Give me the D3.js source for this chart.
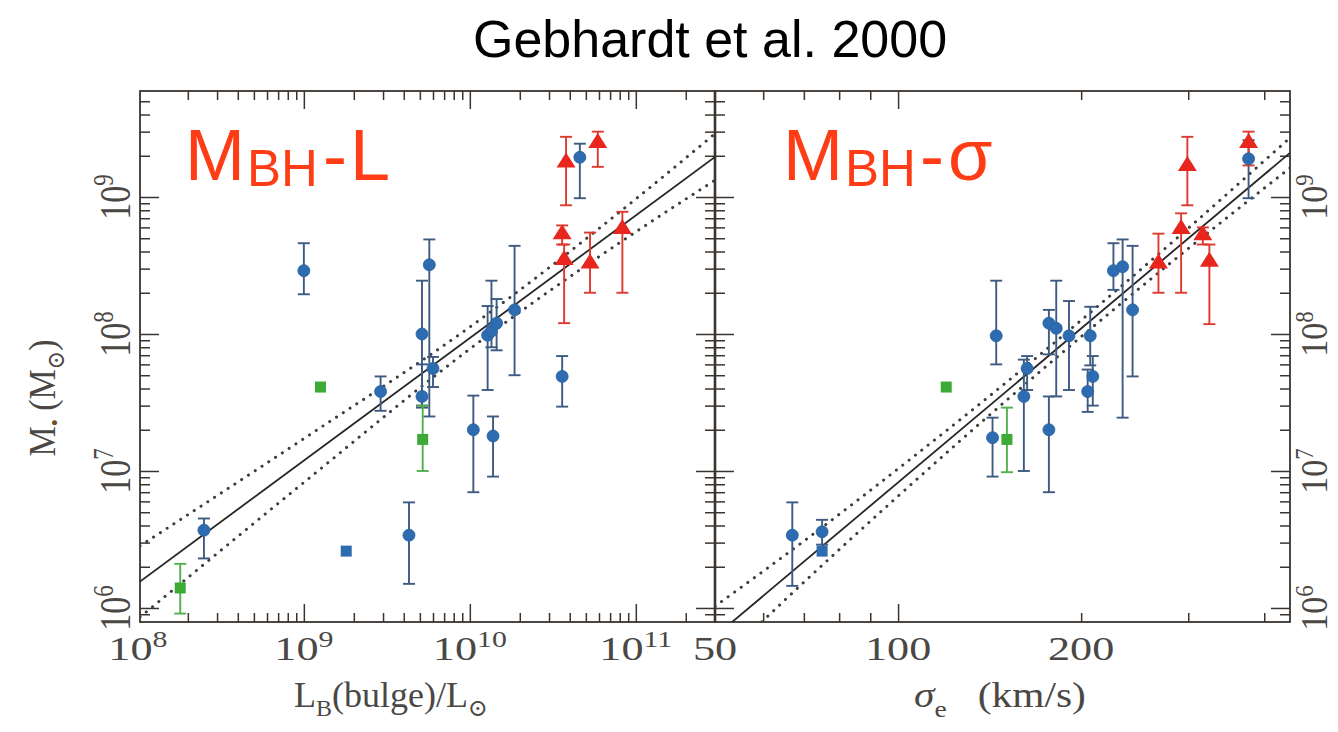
<!DOCTYPE html>
<html>
<head>
<meta charset="utf-8">
<script src="https://cdn.jsdelivr.net/npm/d3@7"></script>
<style>
  html, body { margin: 0; padding: 0; background: #fff; }
  svg { display: block; }
</style>
</head>
<body>
<script>
// ---------------- data ----------------
// Bulge-luminosity panel rows: [L_B / Lsun, M_BH, M_low, M_high]
const lumCircles = [
  [2.5e8, 3.7e6, 2.3e6, 4.5e6],
  [1.0e9, 2.9e8, 1.95e8, 4.6e8],
  [2.9e9, 3.8e7, 2.75e7, 4.9e7],
  [4.3e9, 3.4e6, 1.5e6, 5.9e6],
  [5.15e9, 1.0e8, 3.0e7, 2.45e8],
  [5.15e9, 3.5e7, 2.9e7, 6.0e7],
  [5.7e9, 3.2e8, 2.5e7, 4.9e8],
  [6.0e9, 5.6e7, 4.1e7, 6.8e7],
  [1.05e10, 2.0e7, 7.0e6, 3.55e7],
  [1.28e10, 9.8e7, 3.9e7, 1.6e8],
  [1.35e10, 1.05e8, 8.0e7, 2.45e8],
  [1.45e10, 1.2e8, 7.6e7, 1.8e8],
  [1.38e10, 1.8e7, 9.1e6, 2.5e7],
  [1.86e10, 1.5e8, 5.0e7, 4.4e8],
  [3.6e10, 4.9e7, 2.95e7, 6.9e7],
  [4.6e10, 1.95e9, 9.8e8, 2.45e9]
];
const lumBlueSquares = [[1.8e9, 2.6e6, null, null]];
const lumGreenSquares = [
  [1.26e9, 4.1e7, null, null],
  [1.8e8, 1.4e6, 9.1e5, 2.1e6],
  [5.2e9, 1.7e7, 1.0e7, 3.0e7]
];
const lumTriangles = [
  [3.8e10, 1.8e9, 8.7e8, 2.75e9],
  [5.9e10, 2.5e9, 1.66e9, 3.0e9],
  [3.6e10, 5.4e8, 4.5e8, 6.2e8],
  [3.7e10, 3.5e8, 1.2e8, 4.5e8],
  [5.3e10, 3.3e8, 2.0e8, 5.5e8],
  [8.3e10, 5.9e8, 2.0e8, 7.8e8]
];
// Best fit (two end points) and dotted band half-widths in dex
const lumFit = [[1.03e8, 1.56e6], [3.0e11, 1.96e9]];
const lumBandX = [1.03e8, 1e9, 1e10, 1e11, 3.0e11];
const lumBandDex = [0.26, 0.16, 0.08, 0.12, 0.17];

// Velocity-dispersion panel rows: [sigma_e km/s, M_BH, M_low, M_high]
const sigCircles = [
  [67, 3.4e6, 1.45e6, 5.9e6],
  [75, 3.6e6, 2.9e6, 4.4e6],
  [143, 1.75e7, 9.1e6, 2.45e7],
  [145, 9.7e7, 6.0e7, 2.45e8],
  [163, 5.6e7, 3.9e7, 6.9e7],
  [161, 3.5e7, 1.0e7, 6.5e7],
  [177, 2.0e7, 7.0e6, 3.5e7],
  [205, 3.8e7, 2.7e7, 5.5e7],
  [209, 4.9e7, 3.0e7, 6.9e7],
  [243, 1.5e8, 4.9e7, 4.4e8],
  [226, 2.9e8, 2.1e8, 4.6e8],
  [234, 3.1e8, 2.45e7, 4.9e8],
  [177, 1.2e8, 7.1e7, 1.5e8],
  [182, 1.1e8, 3.5e7, 2.45e8],
  [191, 9.7e7, 3.9e7, 1.74e8],
  [207, 9.7e7, 5.9e7, 1.58e8],
  [377, 1.9e9, 9.8e8, 2.6e9]
];
const sigBlueSquares = [[75, 2.6e6, null, null]];
const sigGreenSquares = [
  [120, 4.1e7, null, null],
  [151, 1.7e7, 9.8e6, 2.9e7]
];
const sigTriangles = [
  [268, 3.3e8, 2.0e8, 5.4e8],
  [292, 5.9e8, 2.0e8, 7.6e8],
  [299, 1.7e9, 8.7e8, 2.75e9],
  [317, 5.3e8, 4.5e8, 6.0e8],
  [325, 3.4e8, 1.18e8, 4.5e8],
  [377, 2.5e9, 1.7e9, 3.0e9]
];
const sigFit = [[50, 6.2e5], [441, 2.1e9]];
const sigBandX = [50, 70, 100, 140, 200, 280, 441];
const sigBandDex = [0.22, 0.15, 0.10, 0.07, 0.06, 0.07, 0.11];

// Axis tick labels (exponents / values)
const massTickExp = [6, 7, 8, 9];
const lumTickExp = [8, 9, 10, 11];
const sigTickLabels = [50, 100, 200];

// ---------------- layout ----------------
const W = 1338, H = 732;
const plotTop = 91, plotBottom = 622;
const leftP = { x0: 140, x1: 715 };
const rightP = { x0: 715, x1: 1290 };
const STRETCH = 1.3;            // the printed figure is widened horizontally
const inkAxis = "#3a3430";
const inkText = "#4a4744";
const serif = "'Liberation Serif', 'DejaVu Serif', serif";

const colBlue = "#2d6cb0", colBlueBar = "#3d5a80";
const colRed = "#e8261d", colRedBar = "#dc3a2e";
const colGreen = "#3caa37", colGreenBar = "#52b04c";

const svg = d3.select("body").append("svg")
  .attr("width", W).attr("height", H)
  .attr("viewBox", `0 0 ${W} ${H}`);

svg.append("rect").attr("width", W).attr("height", H).attr("fill", "#fff");

const y = d3.scaleLog().domain([7.9e5, 5.94e9]).range([plotBottom, plotTop]);
const xL = d3.scaleLog().domain([1.03e8, 3.0e11]).range([leftP.x0, leftP.x1]);
const xR = d3.scaleLog().domain([50, 441]).range([rightP.x0, rightP.x1]);

// clip paths
const defs = svg.append("defs");
[["clipL", leftP], ["clipR", rightP]].forEach(([id, p]) => {
  defs.append("clipPath").attr("id", id).append("rect")
    .attr("x", p.x0).attr("y", plotTop).attr("width", p.x1 - p.x0).attr("height", plotBottom - plotTop);
});

// ---------------- ticks ----------------
function tickSet(axisFn, scale, values, size, transform) {
  const g = svg.append("g").attr("transform", transform)
    .call(axisFn(scale).tickValues(values).tickSize(size).tickFormat(""));
  g.select(".domain").remove();
  g.selectAll(".tick line").attr("stroke", inkAxis).attr("stroke-width", 1.5);
  return g;
}
const isDecade = v => Math.abs(Math.log10(v) - Math.round(Math.log10(v))) < 1e-6;
const inside = (s) => (v) => { const p = s(v); const r = s.range(); return p > r[0] + 1 && p < r[1] - 1; };
const insideY = (v) => { const p = y(v); return p > plotTop + 1 && p < plotBottom - 1; };

const yTicks = y.ticks().filter(insideY);
const yMajor = yTicks.filter(isDecade), yMinor = yTicks.filter(v => !isDecade(v));
const xLTicks = xL.ticks().filter(inside(xL));
const xLMajor = xLTicks.filter(isDecade), xLMinor = xLTicks.filter(v => !isDecade(v));
const xRTicks = xR.ticks().filter(inside(xR));
const xRMajor = xRTicks.filter(v => v === 100), xRMinor = xRTicks.filter(v => v !== 100);

const MAJ = 18, MIN = 9;
// left panel: bottom / top
tickSet(d3.axisTop, xL, xLMajor, MAJ, `translate(0,${plotBottom})`);
tickSet(d3.axisTop, xL, xLMinor, MIN, `translate(0,${plotBottom})`);
tickSet(d3.axisBottom, xL, xLMajor, MAJ, `translate(0,${plotTop})`);
tickSet(d3.axisBottom, xL, xLMinor, MIN, `translate(0,${plotTop})`);
// right panel: bottom / top
tickSet(d3.axisTop, xR, xRMajor, MAJ, `translate(0,${plotBottom})`);
tickSet(d3.axisTop, xR, xRMinor, MIN, `translate(0,${plotBottom})`);
tickSet(d3.axisBottom, xR, xRMajor, MAJ, `translate(0,${plotTop})`);
tickSet(d3.axisBottom, xR, xRMinor, MIN, `translate(0,${plotTop})`);
// vertical edges (ticks point into each panel)
[[d3.axisRight, leftP.x0], [d3.axisLeft, leftP.x1], [d3.axisRight, rightP.x0], [d3.axisLeft, rightP.x1]]
  .forEach(([fn, x]) => {
    tickSet(fn, y, yMajor, MAJ + 1, `translate(${x},0)`);
    tickSet(fn, y, yMinor, MIN + 1, `translate(${x},0)`);
  });

// frames
[leftP, rightP].forEach(p => {
  svg.append("rect").attr("x", p.x0).attr("y", plotTop)
    .attr("width", p.x1 - p.x0).attr("height", plotBottom - plotTop)
    .attr("fill", "none").attr("stroke", inkAxis).attr("stroke-width", 1.8);
});
svg.append("line").attr("x1", leftP.x1).attr("x2", leftP.x1).attr("y1", plotTop).attr("y2", plotBottom)
  .attr("stroke", inkAxis).attr("stroke-width", 2.6);

// ---------------- fits ----------------
function drawFit(xs, fit, bandX, bandDex, clip) {
  const g = svg.append("g").attr("clip-path", `url(#${clip})`);
  const lx0 = Math.log10(fit[0][0]), lx1 = Math.log10(fit[1][0]);
  const ly0 = Math.log10(fit[0][1]), ly1 = Math.log10(fit[1][1]);
  const fitAt = v => Math.pow(10, ly0 + (Math.log10(v) - lx0) * (ly1 - ly0) / (lx1 - lx0));
  const line = d3.line().x(d => xs(d[0])).y(d => y(d[1]));
  g.append("path").attr("d", line(fit))
    .attr("fill", "none").attr("stroke", "#262626").attr("stroke-width", 1.8);
  const curve = d3.line().curve(d3.curveMonotoneX).x(d => xs(d[0])).y(d => y(d[1]));
  [1, -1].forEach(sgn => {
    const pts = bandX.map((v, i) => [v, fitAt(v) * Math.pow(10, sgn * bandDex[i])]);
    g.append("path").attr("d", curve(pts))
      .attr("fill", "none").attr("stroke", "#3c3c3c").attr("stroke-width", 3)
      .attr("stroke-linecap", "round").attr("stroke-dasharray", "0.1 8");
  });
}
drawFit(xL, lumFit, lumBandX, lumBandDex, "clipL");
drawFit(xR, sigFit, sigBandX, sigBandDex, "clipR");

// ---------------- points ----------------
function errorBars(xs, rows, color) {
  const g = svg.append("g").attr("stroke", color).attr("stroke-width", 1.9).attr("fill", "none");
  rows.filter(d => d[2] != null).forEach(d => {
    const cx = xs(d[0]);
    g.append("line").attr("x1", cx).attr("x2", cx).attr("y1", y(d[2])).attr("y2", y(d[3]));
    [d[2], d[3]].forEach(v => {
      g.append("line").attr("x1", cx - 6).attr("x2", cx + 6).attr("y1", y(v)).attr("y2", y(v));
    });
  });
}
const triPath = "M0,-9.5 L9.5,5.5 L-9.5,5.5 Z";
function drawPanel(xs, circles, blueSq, greenSq, tris) {
  errorBars(xs, circles, colBlueBar);
  errorBars(xs, greenSq, colGreenBar);
  errorBars(xs, tris, colRedBar);
  svg.append("g").selectAll("circle").data(circles).join("circle")
    .attr("cx", d => xs(d[0])).attr("cy", d => y(d[1])).attr("r", 6)
    .attr("fill", colBlue).attr("stroke", "#275f9c").attr("stroke-width", 0.8);
  svg.append("g").selectAll("rect").data(blueSq).join("rect")
    .attr("x", d => xs(d[0]) - 5.5).attr("y", d => y(d[1]) - 5.5)
    .attr("width", 11).attr("height", 11).attr("fill", colBlue);
  svg.append("g").selectAll("rect").data(greenSq).join("rect")
    .attr("x", d => xs(d[0]) - 5.5).attr("y", d => y(d[1]) - 5.5)
    .attr("width", 11).attr("height", 11).attr("fill", colGreen);
  svg.append("g").selectAll("path").data(tris).join("path")
    .attr("transform", d => `translate(${xs(d[0])},${y(d[1])})`)
    .attr("d", triPath).attr("fill", colRed);
}
drawPanel(xL, lumCircles, lumBlueSquares, lumGreenSquares, lumTriangles);
drawPanel(xR, sigCircles, sigBlueSquares, sigGreenSquares, sigTriangles);

// ---------------- tick labels ----------------
const FS = 34, SUP = 23;
function powLabel(g, exp) {
  const t = g.append("text").attr("font-family", serif).attr("fill", inkText)
    .attr("font-size", FS).attr("text-anchor", "middle");
  t.append("tspan").text("10");
  t.append("tspan").attr("font-size", SUP).attr("dy", -13).text(exp);
  return t;
}
// x labels, left panel
lumTickExp.forEach(e => {
  const g = svg.append("g").attr("transform", `translate(${xL(Math.pow(10, e))},660) scale(${STRETCH},1)`);
  powLabel(g, e);
});
// x labels, right panel
sigTickLabels.forEach(v => {
  svg.append("g").attr("transform", `translate(${xR(v)},660) scale(${STRETCH},1)`)
    .append("text").attr("font-family", serif).attr("fill", inkText)
    .attr("font-size", FS).attr("text-anchor", "middle").text(v);
});
// y labels, both outer sides (rotated)
massTickExp.forEach(e => {
  const py = y(Math.pow(10, e));
  powLabel(svg.append("g").attr("transform", `translate(130,${py}) scale(${STRETCH},1) rotate(-90)`), e);
  powLabel(svg.append("g").attr("transform", `translate(1327,${py}) scale(1.1,1) rotate(-90)`), e);
});

// ---------------- axis titles ----------------
{
  const g = svg.append("g").attr("transform", `translate(391,707)`);
  const t = g.append("text").attr("font-family", serif).attr("fill", inkText)
    .attr("font-size", 36).attr("text-anchor", "middle");
  t.append("tspan").text("L");
  t.append("tspan").attr("font-size", 24).attr("dy", 9).text("B");
  t.append("tspan").attr("dy", -9).text("(bulge)/L");
  t.append("tspan").attr("font-size", 24).attr("dy", 9).text("⊙");
}
{
  const g = svg.append("g").attr("transform", `translate(1000,707) scale(1.15,1)`);
  const t = g.append("text").attr("font-family", serif).attr("fill", inkText)
    .attr("font-size", 36).attr("text-anchor", "middle").attr("xml:space", "preserve");
  t.append("tspan").attr("font-style", "italic").text("σ");
  t.append("tspan").attr("font-size", 24).attr("dy", 10).text("e");
  t.append("tspan").attr("dy", -10).text("   (km/s)");
}
{
  const g = svg.append("g").attr("transform", `translate(55,398) scale(1.1,1) rotate(-90)`);
  const t = g.append("text").attr("font-family", serif).attr("fill", inkText)
    .attr("font-size", 34).attr("text-anchor", "middle").attr("xml:space", "preserve");
  t.append("tspan").text("M");
  t.append("tspan").attr("font-size", 20).attr("dy", 6).attr("fill", "#6b4a2a").text("•");
  t.append("tspan").attr("dy", -6).text(" (M");
  t.append("tspan").attr("font-size", 22).attr("dy", 8).text("⊙");
  t.append("tspan").attr("dy", -8).text(")");
}

// ---------------- title and panel names ----------------
const sans = "'Liberation Sans', Arial, Helvetica, sans-serif";
svg.append("text").attr("x", 710).attr("y", 57).attr("text-anchor", "middle")
  .attr("font-family", sans).attr("font-size", 52).attr("fill", "#000")
  .text("Gebhardt et al. 2000");

function panelName(x, last, dash) {
  const t = svg.append("text").attr("y", 180)
    .attr("font-family", sans).attr("font-size", 72).attr("fill", "#fe3d16");
  t.append("tspan").attr("x", x).text("M");
  t.append("tspan").attr("x", x + 62).attr("font-size", 51).attr("dy", 6).text("BH");
  t.append("tspan").attr("x", x + dash).attr("dy", -6).text("-");
  t.append("tspan").attr("x", x + 165).text(last);
}
panelName(185, "L", 138);
panelName(783, "σ", 137);
</script>
</body>
</html>
